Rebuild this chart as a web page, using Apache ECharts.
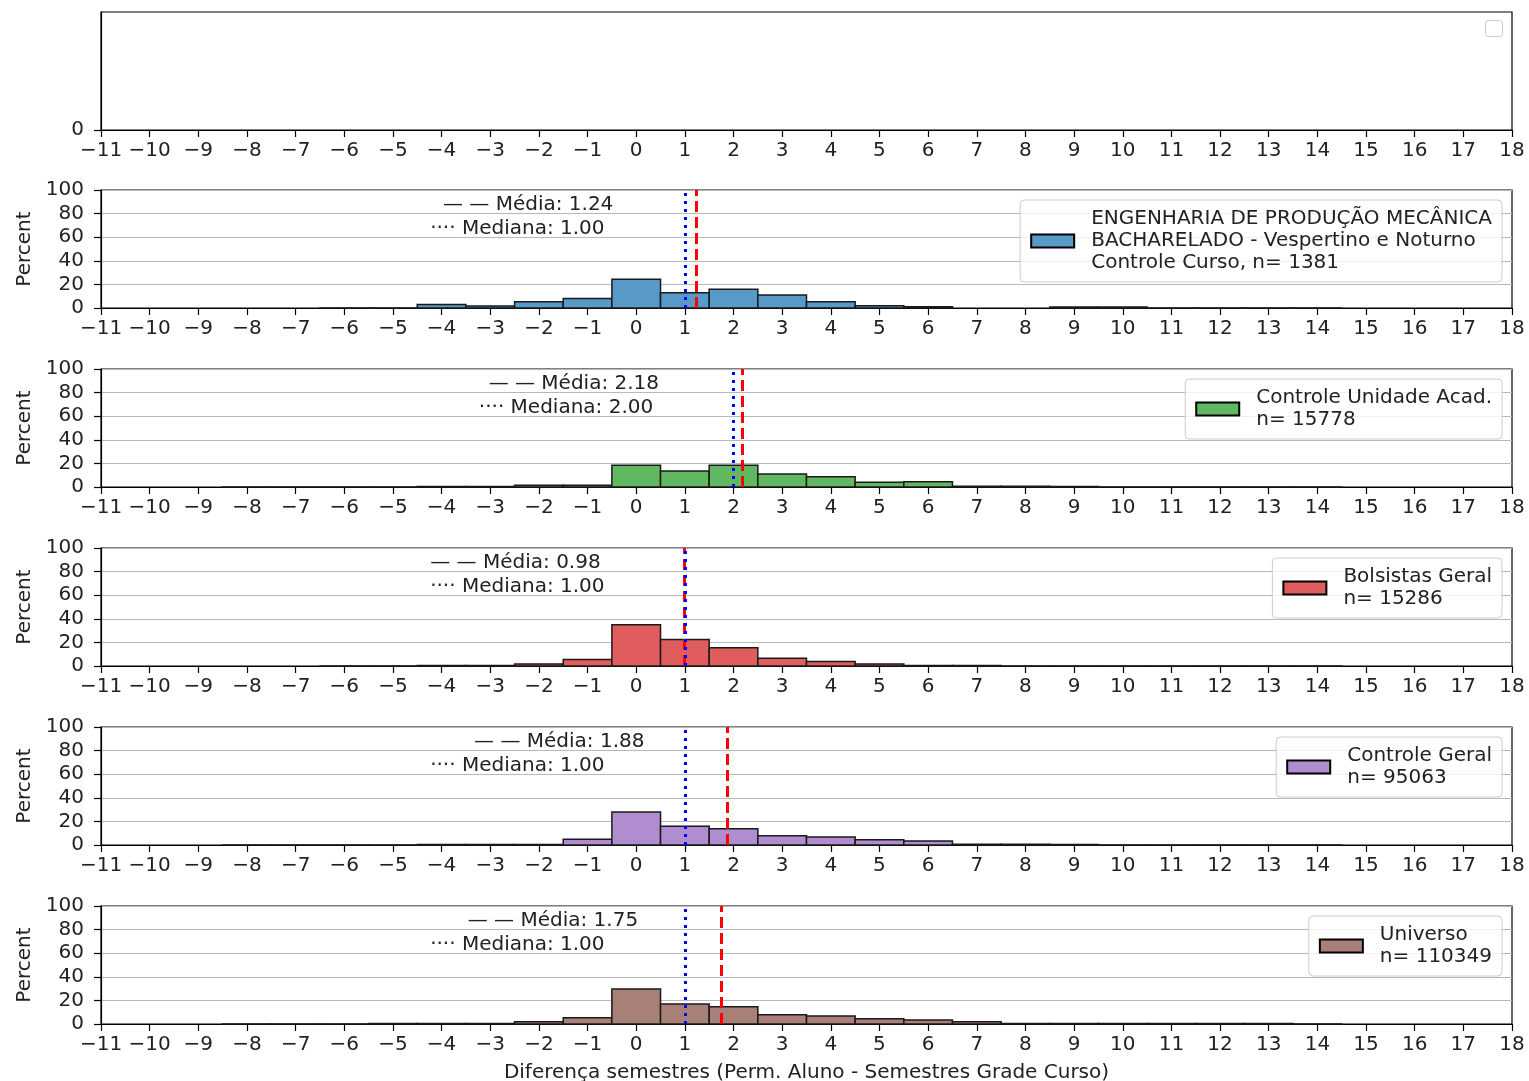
<!DOCTYPE html>
<html>
<head>
<meta charset="utf-8">
<script src="https://cdn.jsdelivr.net/npm/echarts@6/dist/echarts.min.js"></script>
<style>
html,body{margin:0;padding:0;background:#fff;}
#chart{width:1529px;height:1081px;}
</style>
</head>
<body>
<div id="chart"></div>
<script>
// ---- data ----
const binCenters = [-8,-7,-6,-5,-4,-3,-2,-1,0,1,2,3,4,5,6,7,8,9,10,11,12,13,14];
const cursoVals   = [0,0,0.1,0.1,2.9,1.7,5.4,8.0,24.3,13.0,15.8,11.0,5.4,2.0,1.0,0,0,0.8,0.8,0.1,0.1,0.1,0.1];
const unidadeVals = [0.05,0.05,0.05,0.05,0.5,0.5,1.5,1.5,18.5,13.5,18.5,11.0,8.7,4.0,4.5,0.7,0.7,0.5,0.1,0.1,0.1,0.1,0.1];
const bolsistasVals = [0,0,0.05,0.05,0.5,0.5,1.7,5.6,35.0,22.5,15.5,6.5,3.9,1.7,0.5,0.5,0.05,0.05,0.05,0.05,0.05,0.05,0.05];
const geralVals   = [0.05,0.05,0.05,0.05,0.5,0.5,0.5,4.8,28.0,15.8,13.8,7.9,6.8,4.5,3.4,0.7,0.7,0.5,0.05,0.05,0.05,0.05,0.05];
const universoVals = [0.05,0.05,0.05,0.5,0.5,0.5,2.0,5.4,29.7,17.0,14.7,7.9,6.8,4.5,3.4,2.0,0.5,0.5,0.5,0.5,0.5,0.5,0.05];

const seriesNames = [
  'ENGENHARIA DE PRODUÇÃO MECÂNICA\nBACHARELADO - Vespertino e Noturno\nControle Curso, n= 1381',
  'Controle Unidade Acad.\nn= 15778',
  'Bolsistas Geral\nn= 15286',
  'Controle Geral\nn= 95063',
  'Universo\nn= 110349'
];
const seriesValues = [cursoVals, unidadeVals, bolsistasVals, geralVals, universoVals];
const seriesColors = ['#5799c7', '#61b861', '#e05d5e', '#af8dce', '#a98078'];
const means   = [1.24, 2.18, 0.98, 1.88, 1.75];
const medians = [1.00, 2.00, 1.00, 1.00, 1.00];

const xMin = -11, xMax = 18;
const yTicks = [0, 20, 40, 60, 80, 100];
const xAxisTitle = 'Diferença semestres (Perm. Aluno - Semestres Grade Curso)';
const yAxisTitle = 'Percent';

// ---- layout / style ----
const FONT = 'DejaVu Sans';
const FS = 20;
const TXT = '#222';
const gridTops = [12, 190, 369, 548, 727, 906];
const GH = 118, GL = 101, GR = 17;
const fmtX = v => v < 0 ? '\u2212' + Math.abs(v) : String(v);

const grids = [], xAxes = [], yAxes = [], series = [], legends = [];

gridTops.forEach((t, i) => {
  grids.push({left: GL, right: GR, top: t, height: GH, show: true, borderColor: '#000', borderWidth: 1.2,
              backgroundColor: 'transparent', containLabel: false, outerBoundsMode: 'none'});
  const isLast = i === gridTops.length - 1;
  xAxes.push({
    type: 'value', gridIndex: i, min: xMin, max: xMax, interval: 1,
    axisLine: {show: true, onZero: false, lineStyle: {color: '#000', width: 1.2}},
    axisTick: {show: true, length: 7, lineStyle: {color: '#000', width: 1.2}},
    axisLabel: {show: true, formatter: fmtX, fontSize: FS, fontFamily: FONT, color: TXT, margin: 11, showMinLabel: true, showMaxLabel: true, hideOverlap: false},
    splitLine: {show: false},
    name: isLast ? xAxisTitle : '', nameLocation: 'middle', nameGap: 39,
    nameTextStyle: {fontSize: FS, fontFamily: FONT, color: TXT}
  });
  if (i === 0) {
    yAxes.push({
      type: 'value', gridIndex: 0, min: 0, max: 1, interval: 1,
      axisLine: {show: true, onZero: false, lineStyle: {color: '#000', width: 1.2}},
      axisTick: {show: true, length: 7, customValues: [0], lineStyle: {color: '#000', width: 1.2}},
      axisLabel: {show: true, customValues: [0], fontSize: FS, fontFamily: FONT, color: TXT, margin: 17},
      splitLine: {show: false}
    });
  } else {
    yAxes.push({
      type: 'value', gridIndex: i, min: yTicks[0], max: yTicks[yTicks.length - 1], interval: 20,
      axisLine: {show: true, onZero: false, lineStyle: {color: '#000', width: 1.2}},
      axisTick: {show: true, length: 7, lineStyle: {color: '#000', width: 1.2}},
      axisLabel: {show: true, fontSize: FS, fontFamily: FONT, color: TXT, margin: 17},
      splitLine: {show: true, lineStyle: {color: '#b8b8b8', width: 1.2}},
      name: yAxisTitle, nameLocation: 'middle', nameRotate: 90, nameGap: 65,
      nameTextStyle: {fontSize: FS, fontFamily: FONT, color: TXT}
    });
  }
});

seriesNames.forEach((name, k) => {
  const gi = k + 1;
  const color = seriesColors[k];
  const vals = seriesValues[k];
  series.push({
    type: 'custom', name: name, xAxisIndex: gi, yAxisIndex: gi,
    itemStyle: {color: color, borderColor: '#000', borderWidth: 1.5},
    encode: {x: 0, y: 1},
    data: binCenters.map((b, j) => [b, vals[j]]),
    renderItem: function (params, api) {
      const x = api.value(0), y = api.value(1);
      if (!y) return;
      const p1 = api.coord([x - 0.5, y]);
      const p0 = api.coord([x + 0.5, 0]);
      return {type: 'rect', shape: {x: p1[0], y: p1[1], width: p0[0] - p1[0], height: p0[1] - p1[1]},
              style: {fill: color, stroke: '#1a1a1a', lineWidth: 1.5}};
    },
    markLine: {
      silent: true, symbol: ['none', 'none'], label: {show: false}, z: 5,
      data: [
        {xAxis: means[k], lineStyle: {color: '#ff0000', type: [11, 5], width: 3}},
        {xAxis: medians[k], lineStyle: {color: '#0000ff', type: [3, 5], width: 3}}
      ]
    },
    markPoint: {
      silent: true, symbol: 'rect', symbolSize: 1, itemStyle: {color: 'rgba(0,0,0,0)'},
      data: [
        {coord: [means[k] - 1.70, 87.5], label: {show: true, position: 'left', distance: 0, color: TXT, fontSize: FS, fontFamily: FONT,
          formatter: '\u2014 \u2014 Média: ' + means[k].toFixed(2)}},
        {coord: [medians[k] - 1.64, 67.2], label: {show: true, position: 'left', distance: 0, color: TXT, fontSize: FS, fontFamily: FONT,
          formatter: '\u00b7\u00b7\u00b7\u00b7 Mediana: ' + medians[k].toFixed(2)}}
      ]
    }
  });
  legends.push({
    top: gridTops[gi] + 10, right: 27, orient: 'vertical', selectedMode: false,
    data: [{name: name, icon: 'rect'}],
    itemWidth: 43, itemHeight: 13,
    textStyle: {fontSize: FS, fontFamily: FONT, color: TXT, lineHeight: 22, padding: [0, 0, 0, 12]},
    padding: [8, 10, 8, 10],
    borderColor: '#cccccc', borderWidth: 1, borderRadius: 4,
    backgroundColor: 'rgba(255,255,255,0.8)'
  });
});

const chart = echarts.init(document.getElementById('chart'), null, {renderer: 'canvas'});
chart.setOption({
  backgroundColor: '#fff',
  animation: false,
  grid: grids, xAxis: xAxes, yAxis: yAxes, series: series, legend: legends,
  graphic: [{type: 'rect', left: 1485, top: 20, shape: {width: 17, height: 16, r: 3},
             style: {fill: '#fff', stroke: '#cccccc', lineWidth: 1}}]
});
</script>
</body>
</html>
